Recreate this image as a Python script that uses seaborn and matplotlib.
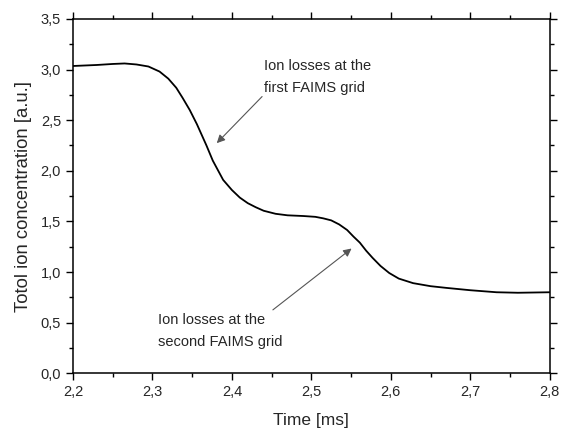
import matplotlib
matplotlib.use("Agg")
import matplotlib.pyplot as plt
from matplotlib.ticker import MultipleLocator
import seaborn as sns
import pandas as pd

# data
time_ms = [2.200, 2.215, 2.230, 2.250, 2.265, 2.280, 2.295, 2.309, 2.320, 2.330,
           2.338, 2.347, 2.356, 2.368, 2.376, 2.389, 2.400, 2.410, 2.420, 2.430,
           2.440, 2.455, 2.470, 2.490, 2.505, 2.515, 2.525, 2.535, 2.545, 2.553,
           2.561, 2.569, 2.577, 2.587, 2.598, 2.610, 2.628, 2.650, 2.670, 2.700,
           2.733, 2.760, 2.800]
concentration = [3.035, 3.040, 3.045, 3.055, 3.060, 3.050, 3.030, 2.980, 2.910, 2.820,
                 2.720, 2.600, 2.460, 2.250, 2.100, 1.910, 1.810, 1.735, 1.680, 1.640,
                 1.605, 1.575, 1.560, 1.553, 1.545, 1.530, 1.510, 1.470, 1.415, 1.350,
                 1.290, 1.210, 1.140, 1.060, 0.990, 0.935, 0.890, 0.860, 0.843, 0.820,
                 0.800, 0.795, 0.800]
x_ticks = [2.2, 2.3, 2.4, 2.5, 2.6, 2.7, 2.8]
x_tick_labels = ["2,2", "2,3", "2,4", "2,5", "2,6", "2,7", "2,8"]
y_ticks = [0.0, 0.5, 1.0, 1.5, 2.0, 2.5, 3.0, 3.5]
y_tick_labels = ["0,0", "0,5", "1,0", "1,5", "2,0", "2,5", "3,0", "3,5"]

sns.set_style("ticks")
plt.rcParams["font.family"] = ["Liberation Sans", "DejaVu Sans"]

df = pd.DataFrame({"Time": time_ms, "Conc": concentration})

fig = plt.figure(figsize=(5.61, 4.30), dpi=100)
ax = fig.add_axes([0.130, 0.132, 0.850, 0.824])
sns.lineplot(data=df, x="Time", y="Conc", ax=ax, color="black", linewidth=1.3)

ax.set_xlim(2.2, 2.8)
ax.set_ylim(0, 3.5)
ax.set_xticks(x_ticks)
ax.set_xticklabels(x_tick_labels)
ax.set_yticks(y_ticks)
ax.set_yticklabels(y_tick_labels)
ax.xaxis.set_minor_locator(MultipleLocator(0.05))
ax.yaxis.set_minor_locator(MultipleLocator(0.25))
ax.tick_params(which="both", direction="out", top=True, right=True,
               labeltop=False, labelright=False, color="black")
ax.tick_params(which="major", length=5, width=1.0, labelsize=10.5)
ax.tick_params(which="minor", length=3, width=1.0)
for s in ax.spines.values():
    s.set_visible(True)
    s.set_linewidth(1.1)
    s.set_color("black")

ax.set_xlabel("Time [ms]", fontsize=12.5, labelpad=10)
ax.set_ylabel("Totol ion concentration [a.u.]", fontsize=13.3, labelpad=6)

arrow = dict(arrowstyle="-|>", color="#555555", lw=0.8, mutation_scale=12,
             shrinkA=0, shrinkB=0)
ax.text(2.4405, 2.928, "Ion losses at the\nfirst FAIMS grid", fontsize=10.5,
        ha="left", va="center", linespacing=1.7)
ax.annotate("", xy=(2.381, 2.273), xytext=(2.438, 2.733), arrowprops=arrow)
ax.text(2.307, 0.415, "Ion losses at the\nsecond FAIMS grid", fontsize=10.5,
        ha="left", va="center", linespacing=1.7)
ax.annotate("", xy=(2.5506, 1.232), xytext=(2.4516, 0.626), arrowprops=arrow)

fig.savefig("out.png", dpi=100)
